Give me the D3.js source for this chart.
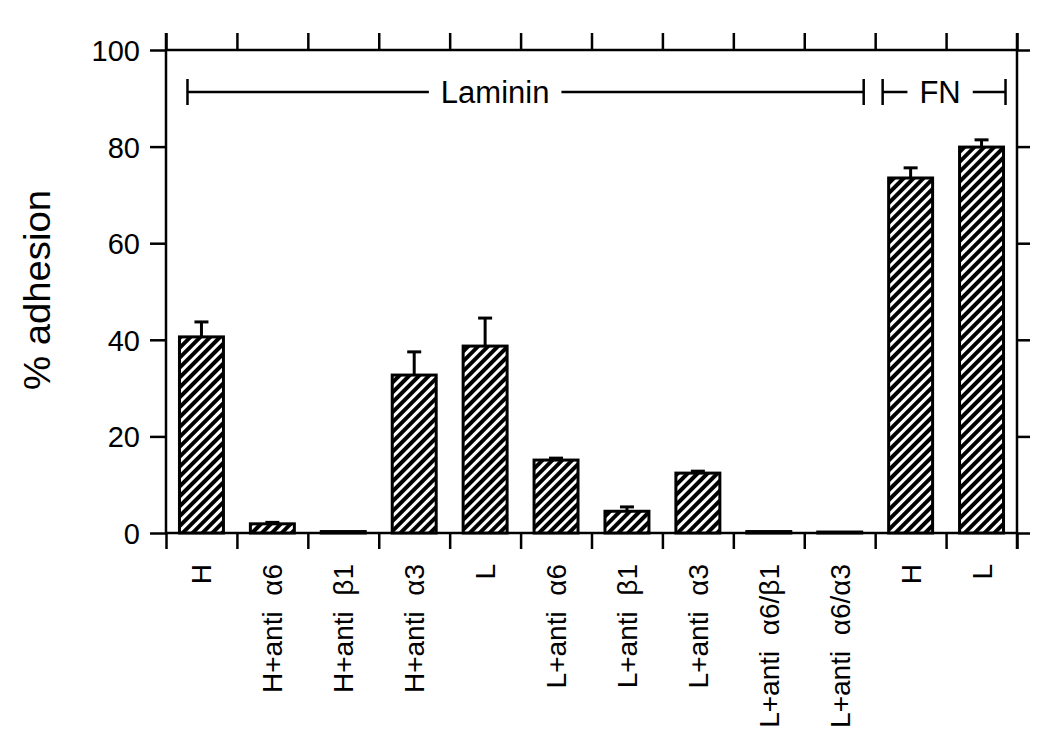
<!DOCTYPE html>
<html>
<head>
<meta charset="utf-8">
<script src="https://cdn.jsdelivr.net/npm/d3@7"></script>
<style>
  body { margin: 0; background: #fff; }
  svg { display: block; }
  text { font-family: "Liberation Sans", Arial, sans-serif; fill: #000; white-space: pre; }
</style>
</head>
<body>
<div id="chart"></div>
<script>
// data
var categories = ["H", "H+anti  \u03b16", "H+anti  \u03b21", "H+anti  \u03b13", "L",
                  "L+anti  \u03b16", "L+anti  \u03b21", "L+anti  \u03b13",
                  "L+anti  \u03b16/\u03b21", "L+anti  \u03b16/\u03b13", "H ", "L "];
var adhesion = [40.6, 1.9, 0.3, 32.7, 38.7, 15.1, 4.5, 12.4, 0.3, 0.2, 73.5, 79.9];
var errUp    = [3.1, 0.3, 0, 4.8, 5.8, 0.4, 0.9, 0.4, 0, 0, 2.1, 1.5];
var yTicks = [0, 20, 40, 60, 80, 100];
var groupLabels = ["Laminin", "FN"];
var groupFirst = [0, 10];
var groupLast = [9, 11];

var W = 1050, H = 747;
var mLeft = 166, mRight = 1017, mTop = 50, mBottom = 533;

var rows = categories.map(function(c, i) { return {cat: c, v: adhesion[i], e: errUp[i]}; });

var svg = d3.select("#chart").append("svg").attr("width", W).attr("height", H);

// hatch pattern
var pat = svg.append("defs").append("pattern")
  .attr("id", "hatch").attr("patternUnits", "userSpaceOnUse")
  .attr("width", 7).attr("height", 7).attr("patternTransform", "rotate(45)");
pat.append("rect").attr("width", 7).attr("height", 7).attr("fill", "#fff");
pat.append("rect").attr("width", 4).attr("height", 7).attr("fill", "#000");

var x = d3.scaleBand().domain(categories).range([mLeft, mRight]).paddingInner(0.38).paddingOuter(0.19);
var y = d3.scaleLinear().domain([0, 100]).range([mBottom, mTop]);
var bw = x.bandwidth();

var yAxis = svg.append("g").attr("transform", "translate(" + mLeft + ",0)")
  .call(d3.axisLeft(y).tickValues(yTicks).tickSize(16).tickPadding(10));
var yAxisR = svg.append("g").attr("transform", "translate(" + mRight + ",0)")
  .call(d3.axisRight(y).tickValues(yTicks).tickSize(13).tickFormat(""));

// boundaries between categories
var bounds = d3.range(categories.length + 1).map(function(i) { return mLeft + i * x.step(); });
var xb = d3.scaleLinear().domain([mLeft, mRight]).range([mLeft, mRight]);
var xAxisB = svg.append("g").attr("transform", "translate(0," + mBottom + ")")
  .call(d3.axisBottom(xb).tickValues(bounds).tickSize(16).tickFormat(""));
var xAxisT = svg.append("g").attr("transform", "translate(0," + mTop + ")")
  .call(d3.axisTop(xb).tickValues(bounds).tickSize(17).tickFormat(""));

[yAxis, yAxisR, xAxisB, xAxisT].forEach(function(g) {
  g.select(".domain").attr("stroke", "#000").attr("stroke-width", 2.5);
  g.selectAll(".tick line").attr("stroke", "#000").attr("stroke-width", 2.5);
});
yAxis.select(".domain").attr("d", "M0," + (mTop - 17) + "V" + mBottom);
yAxisR.select(".domain").attr("d", "M0," + (mTop - 17) + "V" + (mBottom + 16));
xAxisB.select(".domain").attr("d", "M" + mLeft + ",0H" + mRight);
xAxisT.select(".domain").attr("d", "M" + mLeft + ",0H" + mRight);

yAxis.selectAll(".tick text").attr("font-size", 29).attr("dy", "0.36em");

// bars
svg.selectAll("rect.bar").data(rows).enter().append("rect")
  .attr("class", "bar")
  .attr("x", function(d) { return x(d.cat); })
  .attr("y", function(d) { return y(d.v); })
  .attr("width", bw)
  .attr("height", function(d) { return mBottom - y(d.v); })
  .attr("fill", "url(#hatch)")
  .attr("stroke", "#000").attr("stroke-width", 3);

// error bars (upper only)
var eb = svg.selectAll("g.err").data(rows.filter(function(d) { return d.e > 0; }))
  .enter().append("g").attr("class", "err")
  .attr("transform", function(d) { return "translate(" + (x(d.cat) + bw / 2) + ",0)"; });
eb.append("line")
  .attr("y1", function(d) { return y(d.v); })
  .attr("y2", function(d) { return y(d.v + d.e); })
  .attr("stroke", "#000").attr("stroke-width", 3);
eb.append("line")
  .attr("x1", -7).attr("x2", 7)
  .attr("y1", function(d) { return y(d.v + d.e); })
  .attr("y2", function(d) { return y(d.v + d.e); })
  .attr("stroke", "#000").attr("stroke-width", 3);

// category labels, rotated
svg.selectAll("text.cat").data(categories).enter().append("text")
  .attr("class", "cat")
  .attr("transform", function(d) { return "translate(" + (x(d) + bw / 2 + 10) + ",564) rotate(-90)"; })
  .attr("text-anchor", "end")
  .attr("font-size", 28)
  .text(function(d) { return d.trim(); });

// y title
svg.append("text")
  .attr("transform", "translate(50,290) rotate(-90)")
  .attr("text-anchor", "middle")
  .attr("font-size", 37)
  .attr("textLength", 200).attr("lengthAdjust", "spacingAndGlyphs")
  .text("% adhesion");

// group brackets
var by = 92;
groupLabels.forEach(function(lab, k) {
  var x0 = k === 0 ? x(categories[groupFirst[k]]) + 8 : x(categories[groupFirst[k]]) - 6;
  var x1 = x(categories[groupLast[k]]) + bw + 2;
  var cx = k === 0 ? x0 + 0.455 * (x1 - x0) : (x0 + x1) / 2 - 4;
  var g = svg.append("g");
  var t = g.append("text").attr("x", cx).attr("y", by + 11)
    .attr("text-anchor", "middle").attr("font-size", 31).text(lab);
  var tw = t.node().getComputedTextLength();
  var gap = 12;
  g.append("path")
    .attr("d", "M" + x0 + "," + (by - 13) + "V" + (by + 13) + "M" + x0 + "," + by + "H" + (cx - tw / 2 - gap) +
               "M" + (cx + tw / 2 + gap) + "," + by + "H" + x1 + "M" + x1 + "," + (by - 13) + "V" + (by + 13))
    .attr("fill", "none").attr("stroke", "#000").attr("stroke-width", 2.5);
});
</script>
</body>
</html>
